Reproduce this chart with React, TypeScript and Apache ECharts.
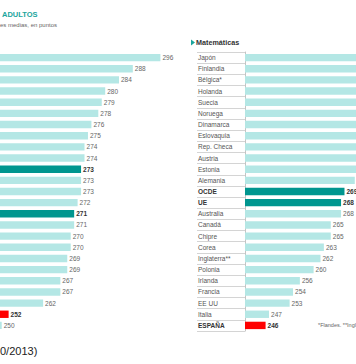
import React, { useEffect, useRef } from "react";
import * as echarts from "echarts";

// Left panel (comprensión lectora) – category labels lie outside the visible crop
const leftCategories = [
  "Japón", "Finlandia", "Holanda", "Australia", "Suecia", "Noruega", "Estonia",
  "Bélgica*", "Rep. Checa", "Eslovaquia", "OCDE", "Canadá", "Corea", "Inglaterra**",
  "UE", "Dinamarca", "Alemania", "EE UU", "Austria", "Chipre", "Polonia", "Irlanda",
  "Francia", "ESPAÑA", "Italia",
];
const leftValues = [
  296, 288, 284, 280, 279, 278, 276, 275, 274, 274, 273, 273, 273, 272, 271, 271,
  270, 270, 269, 269, 267, 267, 262, 252, 250,
];

// Right panel (Matemáticas)
const rightCategories = [
  "Japón", "Finlandia", "Bélgica*", "Holanda", "Suecia", "Noruega", "Dinamarca",
  "Eslovaquia", "Rep. Checa", "Austria", "Estonia", "Alemania", "OCDE", "UE",
  "Australia", "Canadá", "Chipre", "Corea", "Inglaterra**", "Polonia", "Irlanda",
  "Francia", "EE UU", "Italia", "ESPAÑA",
];
const rightValues = [
  288, 282, 280, 280, 279, 278, 278, 276, 276, 275, 273, 272, 269, 268, 268, 265,
  265, 263, 262, 260, 256, 254, 253, 247, 246,
];

const averages = ["OCDE", "UE"];
const highlight = "ESPAÑA";

const LIGHT = "#b4e7e5";
const DARK = "#00968f";
const RED = "#ff0000";
const TEAL_TEXT = "#1ba59d";
const FONT = "'Liberation Sans', Arial, Helvetica, sans-serif";

function barColor(cat: string) {
  if (cat === highlight) return RED;
  if (averages.includes(cat)) return DARK;
  return LIGHT;
}
function isStrong(cat: string) {
  return cat === highlight || averages.includes(cat);
}

function buildData(cats: string[], vals: number[]) {
  return vals.map((v, i) => ({
    value: v,
    itemStyle: { color: barColor(cats[i]) },
    label: isStrong(cats[i])
      ? { fontWeight: "bold" as const, color: "#333" }
      : undefined,
  }));
}

export default function App() {
  const ref = useRef<HTMLDivElement>(null);

  useEffect(() => {
    if (!ref.current) return;
    const chart = echarts.init(ref.current, null, { renderer: "svg" });
    const top = 52;
    const height = 279;
    const barLabel = {
      show: true,
      position: "right" as const,
      distance: 2,
      fontSize: 6.5,
      color: "#666",
      fontFamily: FONT,
    };
    chart.setOption({
      animation: false,
      backgroundColor: "#ffffff",
      textStyle: { fontFamily: FONT },
      grid: [
        { left: 0, top, width: 174.2, height },
        { left: 197, top, width: 48, height },
        { left: 245, top, width: 212.7, height },
      ],
      xAxis: [
        { type: "value", gridIndex: 0, min: 249.5, max: 300, show: false },
        { type: "value", gridIndex: 1, min: 0, max: 1, show: false },
        { type: "value", gridIndex: 2, min: 240, max: 302, show: false },
      ],
      yAxis: [
        {
          type: "category",
          gridIndex: 0,
          inverse: true,
          data: leftCategories,
          show: false,
        },
        {
          type: "category",
          gridIndex: 1,
          inverse: true,
          data: rightCategories,
          axisLine: { show: false },
          axisTick: { show: false },
          splitLine: { show: true, lineStyle: { color: "#d4d4d4", width: 1 } },
          axisLabel: {
            inside: true,
            margin: 1,
            fontSize: 6.5,
            fontFamily: FONT,
            color: "#555",
            formatter: (v: string) => (isStrong(v) ? `{b|${v}}` : v),
            rich: {
              b: { fontWeight: "bold", color: "#333", fontSize: 6.5, fontFamily: FONT },
            },
          },
        },
        {
          type: "category",
          gridIndex: 2,
          inverse: true,
          data: rightCategories,
          axisLine: { show: true, lineStyle: { color: "#c4c4c4", width: 1 } },
          axisTick: { show: false },
          axisLabel: { show: false },
        },
      ],
      series: [
        {
          type: "bar",
          xAxisIndex: 0,
          yAxisIndex: 0,
          barWidth: 7.4,
          data: buildData(leftCategories, leftValues),
          label: barLabel,
        },
        {
          type: "bar",
          xAxisIndex: 2,
          yAxisIndex: 2,
          barWidth: 7.4,
          data: buildData(rightCategories, rightValues),
          label: barLabel,
        },
      ],
      graphic: [
        {
          type: "text",
          left: 2,
          top: 10,
          style: {
            text: "ADULTOS",
            fill: TEAL_TEXT,
            font: `bold 7.5px ${FONT}`,
          },
        },
        {
          type: "text",
          left: 0,
          top: 22,
          style: {
            text: "es medias, en puntos",
            fill: "#666",
            font: `6px ${FONT}`,
          },
        },
        {
          type: "polygon",
          shape: { points: [[191, 39.5], [195, 42.5], [191, 45.5]] },
          style: { fill: TEAL_TEXT },
        },
        {
          type: "text",
          left: 196,
          top: 38.5,
          style: {
            text: "Matemáticas",
            fill: "#333",
            font: `bold 7.2px ${FONT}`,
          },
        },
        {
          type: "text",
          left: 318,
          top: 322,
          style: {
            text: "*Flandes. **Inglaterra e Irlanda del Norte",
            fill: "#666",
            font: `5.5px ${FONT}`,
          },
        },
        {
          type: "text",
          left: 0,
          top: 345,
          style: {
            text: "0/2013)",
            fill: "#222",
            font: `11px ${FONT}`,
          },
        },
      ],
    });
    return () => chart.dispose();
  }, []);

  return (
    <div
      style={{
        position: "fixed",
        left: 0,
        top: 0,
        width: 356,
        height: 364,
        overflow: "hidden",
        background: "#fff",
      }}
    >
      <div ref={ref} style={{ width: 480, height: 364 }} />
    </div>
  );
}
